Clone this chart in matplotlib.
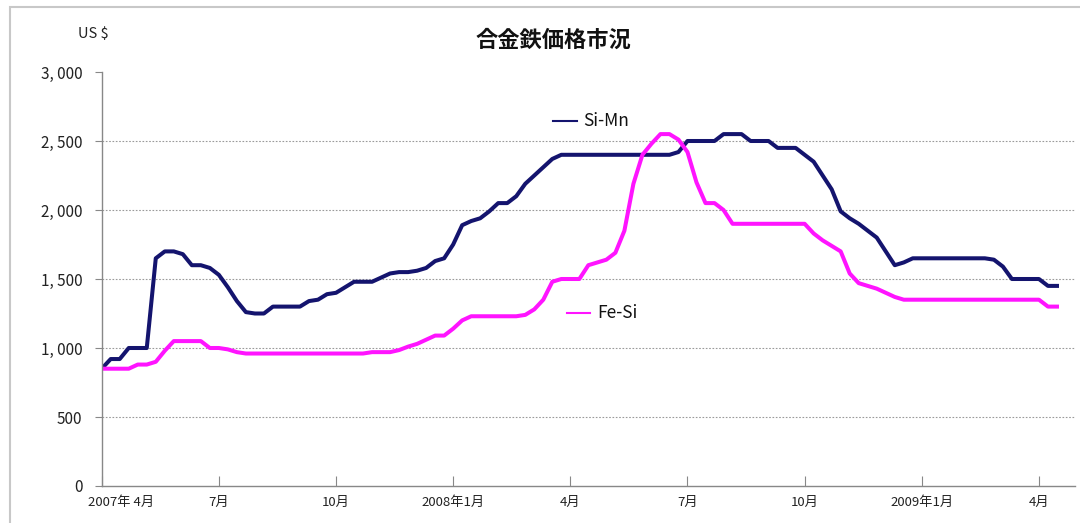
import matplotlib
matplotlib.use("Agg")
import matplotlib.pyplot as plt
import matplotlib.transforms as mtransforms
from matplotlib.patches import Rectangle
import numpy as np

plt.rcParams["font.family"] = ["Noto Sans CJK JP", "DejaVu Sans"]

# weekly prices, US$ / t, from first week of April 2007
si_mn = [
    850, 920, 920, 1000, 1000, 1000, 1650, 1700, 1700, 1680,
    1600, 1600, 1580, 1530, 1440, 1340, 1260, 1250, 1250, 1300,
    1300, 1300, 1300, 1340, 1350, 1390, 1400, 1440, 1480, 1480,
    1480, 1510, 1540, 1550, 1550, 1560, 1580, 1630, 1650, 1750,
    1890, 1920, 1940, 1990, 2050, 2050, 2100, 2190, 2250, 2310,
    2370, 2400, 2400, 2400, 2400, 2400, 2400, 2400, 2400, 2400,
    2400, 2400, 2400, 2400, 2420, 2500, 2500, 2500, 2500, 2550,
    2550, 2550, 2500, 2500, 2500, 2450, 2450, 2450, 2400, 2350,
    2250, 2150, 1990, 1940, 1900, 1850, 1800, 1700, 1600, 1620,
    1650, 1650, 1650, 1650, 1650, 1650, 1650, 1650, 1650, 1640,
    1590, 1500, 1500, 1500, 1500, 1450, 1450,
]
fe_si = [
    850, 850, 850, 850, 880, 880, 900, 980, 1050, 1050,
    1050, 1050, 1000, 1000, 990, 970, 960, 960, 960, 960,
    960, 960, 960, 960, 960, 960, 960, 960, 960, 960,
    970, 970, 970, 985, 1010, 1030, 1060, 1090, 1090, 1140,
    1200, 1230, 1230, 1230, 1230, 1230, 1230, 1240, 1280, 1350,
    1480, 1500, 1500, 1500, 1600, 1620, 1640, 1690, 1850, 2190,
    2400, 2480, 2550, 2550, 2510, 2420, 2200, 2050, 2050, 2000,
    1900, 1900, 1900, 1900, 1900, 1900, 1900, 1900, 1900, 1830,
    1780, 1740, 1700, 1540, 1470, 1450, 1430, 1400, 1370, 1350,
    1350, 1350, 1350, 1350, 1350, 1350, 1350, 1350, 1350, 1350,
    1350, 1350, 1350, 1350, 1350, 1300, 1300,
]
x_labels = ["2007年 4月", "7月", "10月", "2008年1月", "4月",
            "7月", "10月", "2009年1月", "4月"]
y_ticks = [0, 500, 1000, 1500, 2000, 2500, 3000]
y_labels = ["0", "500", "1, 000", "1, 500", "2, 000", "2, 500", "3, 000"]

NAVY = "#14146e"
MAGENTA = "#ff14ff"

W, H = 1080, 523
fig = plt.figure(figsize=(W / 100, H / 100), dpi=100)
fig.patches.append(Rectangle((10 / W, -0.2), 1.2, 1 - 7 / H + 0.2,
                             transform=fig.transFigure, fill=False,
                             edgecolor="#c8c8c8", linewidth=1.5))

ax = fig.add_axes([101.7 / W, 1 - 486 / H, (1075 - 101.7) / W, (486 - 72) / H])
x = np.arange(len(si_mn))
ax.plot(x, si_mn, color=NAVY, linewidth=2.9, solid_joinstyle="round")
ax.plot(x, fe_si, color=MAGENTA, linewidth=2.9, solid_joinstyle="round")

ax.set_xlim(0, 108)
ax.set_ylim(0, 3000)
ax.set_yticks(y_ticks)
ax.set_yticklabels(y_labels, fontsize=11, color="#222222")
ax.set_xticks(np.arange(len(x_labels)) * 13)
ax.set_xticklabels(x_labels, fontsize=9.5, color="#222222")
ax.tick_params(axis="y", direction="out", length=5, pad=9, color="#888888")
ax.tick_params(axis="x", direction="in", length=7, pad=7, color="#888888")
off = mtransforms.ScaledTranslation(19 / 100, 0, fig.dpi_scale_trans)
first = ax.get_xticklabels()[0]
first.set_transform(first.get_transform() + off)

for g in y_ticks[1:-1]:
    ax.axhline(g, color="#9a9a9a", linewidth=0.8, linestyle=(0, (1.5, 1.5)), zorder=0)
for s in ("top", "right"):
    ax.spines[s].set_visible(False)
for s in ("left", "bottom"):
    ax.spines[s].set_color("#888888")
    ax.spines[s].set_linewidth(1.0)

# legend labels placed next to the lines
fig.add_artist(plt.Line2D([553 / W, 577 / W], [1 - 121 / H] * 2, color=NAVY, linewidth=1.5))
fig.text(583 / W, 1 - 121 / H, "Si-Mn", fontsize=12.5, va="center", ha="left", color="#111111")
fig.add_artist(plt.Line2D([567 / W, 590 / W], [1 - 313 / H] * 2, color=MAGENTA, linewidth=1.5))
fig.text(597 / W, 1 - 313 / H, "Fe-Si", fontsize=12.5, va="center", ha="left", color="#111111")

fig.text(553 / W, 1 - 40 / H, "合金鉄価格市況", fontsize=16, fontweight="bold",
         ha="center", va="center", color="#111111")
fig.text(78 / W, 1 - 34 / H, "US $", fontsize=10.5, ha="left", va="center", color="#222222")

fig.savefig("out.png", dpi=100)
